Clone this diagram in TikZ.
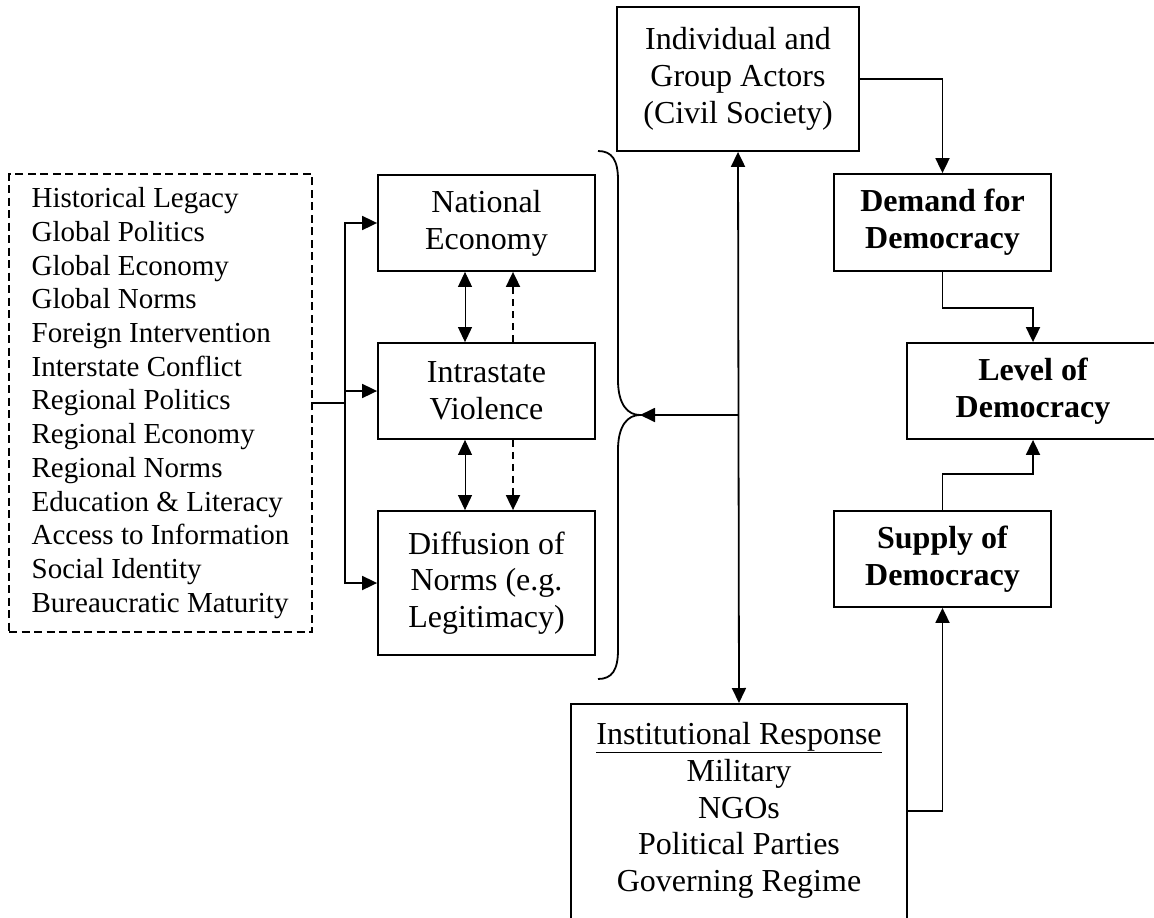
\documentclass[tikz,border=0pt]{standalone}
\usepackage{fontspec}
\setmainfont{Liberation Serif}
\usetikzlibrary{arrows.meta}
\begin{document}
\begin{tikzpicture}[x=1pt,y=-1pt,
  box/.style={draw, line width=1.8pt, align=center, inner sep=0pt,
    font=\fontsize{32}{36.8}\selectfont},
  boldbox/.style={box, font=\fontsize{32}{36.8}\selectfont\bfseries},
  ln/.style={line width=1.8pt},
  arr/.style={ln, -{Triangle[length=15pt,width=14pt]}},
  darr/.style={ln, {Triangle[length=15pt,width=14pt]}-{Triangle[length=15pt,width=14pt]}},
  thinarr/.style={line width=1pt, {Triangle[length=15pt,width=14pt]}-{Triangle[length=15pt,width=14pt]}},
  dasharr/.style={arr, dash pattern=on 7pt off 5pt}]
\useasboundingbox (0,0) rectangle (1154,918);
\clip (0,0) rectangle (1154,918);
\fill[white] (0,0) rectangle (1154,918);

% left list
\node[draw, line width=1.8pt, dash pattern=on 8pt off 4.5pt, minimum width=303pt, minimum height=458pt,
  inner sep=0pt, align=left, font=\fontsize{29}{33.7}\selectfont] (list) at (160.5,403)
  {Historical Legacy\\Global Politics\\Global Economy\\Global Norms\\Foreign Intervention\\Interstate Conflict\\Regional Politics\\Regional Economy\\Regional Norms\\Education \& Literacy\\Access to Information\\Social Identity\\Bureaucratic Maturity};

% middle boxes
\node[box, minimum width=217pt, minimum height=96pt] (nat) at (486.5,223) {National\\Economy};
\node[box, minimum width=217pt, minimum height=96pt] (intra) at (486.5,391) {Intrastate\\Violence};
\node[box, minimum width=217pt, minimum height=144pt] (dif) at (486.5,583) {Diffusion of\\Norms (e.g.\\Legitimacy)};

% right boxes
\node[box, minimum width=242pt, minimum height=144pt] (ind) at (738,79) {Individual and\\Group Actors\\(Civil Society)};
\node[boldbox, minimum width=217pt, minimum height=97pt] (dem) at (942.5,222.5) {Demand for\\Democracy};
\node[boldbox, minimum width=252pt, minimum height=96pt] (lev) at (1033,391) {Level of\\Democracy};
\node[boldbox, minimum width=217pt, minimum height=96pt] (sup) at (942.5,559) {Supply of\\Democracy};
\node[draw, line width=1.8pt, minimum width=336pt, minimum height=260pt, anchor=north] (inst) at (739,703) {};
\node[align=center, inner sep=0pt, anchor=north, font=\fontsize{32}{36.8}\selectfont] (insttxt) at (739,722)
  {\underline{Institutional Response}\\Military\\NGOs\\Political Parties\\Governing Regime};

% list feed
\coordinate (j) at (345,403);
\draw[ln] (list.east) -- (j);
\draw[arr] (j) |- (nat.west);
\draw[arr] (j) |- (intra.west);
\draw[arr] (j) |- (dif.west);

% middle interactions
\draw[thinarr] ([xshift=-21.5pt]nat.south) -- ([xshift=-21.5pt]intra.north);
\draw[dasharr] ([xshift=26.5pt]intra.north) -- ([xshift=26.5pt]nat.south);
\draw[thinarr] ([xshift=-21.5pt]intra.south) -- ([xshift=-21.5pt]dif.north);
\draw[dasharr] ([xshift=26.5pt]intra.south) -- ([xshift=26.5pt]dif.north);

% brace
\coordinate (tip) at (640,415);
\draw[ln] (598,151) .. controls (612,151) and (618,160) .. (618,180) -- (618,380)
  .. controls (618,405) and (628,415) .. (tip)
  .. controls (628,415) and (618,425) .. (618,450) -- (618,650)
  .. controls (618,670) and (612,679) .. (598,679);

% central vertical
\draw[darr] (ind.south) -- (inst.north);
\draw[arr] (ind.south |- tip) -- (tip);

% right flow
\draw[arr] (ind.east) -| (dem.north);
\draw[arr] (dem.south) -- ++(0,36) -| (lev.north);
\draw[arr] (sup.north) -- ++(0,-36) -| (lev.south);
\draw[arr] ([yshift=-108pt]inst.north east) -| (sup.south);
\end{tikzpicture}
\end{document}
